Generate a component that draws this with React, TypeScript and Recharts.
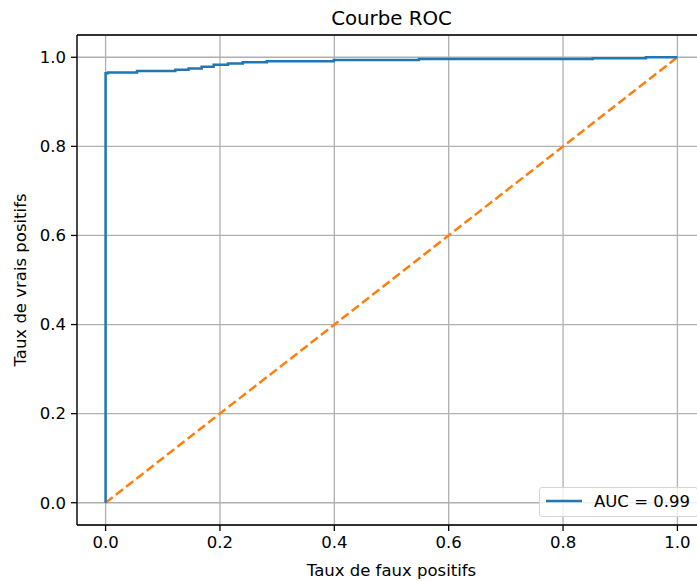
import { LineChart, Line, XAxis, YAxis, CartesianGrid, ReferenceLine } from 'recharts';

// ROC curve points
const fpr = [0, 0, 0.004, 0.055, 0.122, 0.145, 0.168, 0.189, 0.214, 0.24, 0.282, 0.399, 0.548, 0.852, 0.945, 1.0];
const tpr = [0, 0.964, 0.966, 0.969, 0.972, 0.975, 0.979, 0.983, 0.986, 0.989, 0.991, 0.994, 0.996, 0.998, 1.0, 1.0];

const diagX = [0, 1];
const diagY = [0, 1];

const ticks = [0, 0.2, 0.4, 0.6, 0.8, 1.0];

const title = 'Courbe ROC';
const xLabel = 'Taux de faux positifs';
const yLabel = 'Taux de vrais positifs';
const legendLabel = 'AUC = 0.99';

const FONT = '"DejaVu Sans", sans-serif';

const rocData = fpr.map((x, i) => ({ x, y: tpr[i] }));
const diagData = diagX.map((x, i) => ({ x, y: diagY[i] }));

const tickStyle = { fill: '#000', fontSize: 16.5, fontFamily: FONT };
const spine = { stroke: '#000', strokeWidth: 1.3 };

export default function App() {
    return (
        <div
            style={{
                position: 'fixed',
                left: 0,
                top: 0,
                width: 697,
                height: 581,
                overflow: 'hidden',
                background: '#fff',
            }}
        >
            <LineChart width={730} height={581} margin={{ top: 35, right: 24, left: 0, bottom: 0 }}>
                <CartesianGrid stroke="#b0b0b0" strokeWidth={1.3} />
                <XAxis
                    type="number"
                    dataKey="x"
                    domain={[-0.05, 1.05]}
                    ticks={ticks}
                    interval={0}
                    allowDataOverflow
                    height={56}
                    tickSize={6}
                    tickMargin={5}
                    tick={tickStyle}
                    tickLine={spine}
                    axisLine={spine}
                    tickFormatter={(v) => Number(v).toFixed(1)}
                    label={{
                        content: ({ viewBox }: any) => (
                            <text
                                x={viewBox.x + viewBox.width / 2}
                                y={viewBox.y + 51}
                                textAnchor="middle"
                                fontSize={16.5}
                                fontFamily={FONT}
                                fill="#000"
                            >
                                {xLabel}
                            </text>
                        ),
                    }}
                />
                <YAxis
                    type="number"
                    domain={[-0.05, 1.05]}
                    ticks={ticks}
                    interval={0}
                    allowDataOverflow
                    width={77}
                    tickSize={6}
                    tickMargin={5}
                    tick={tickStyle}
                    tickLine={spine}
                    axisLine={spine}
                    tickFormatter={(v) => Number(v).toFixed(1)}
                    label={{
                        content: ({ viewBox }: any) => {
                            const cx = 25.5;
                            const cy = viewBox.y + viewBox.height / 2;
                            return (
                                <text
                                    x={cx}
                                    y={cy}
                                    transform={`rotate(-90 ${cx} ${cy})`}
                                    textAnchor="middle"
                                    fontSize={16.5}
                                    fontFamily={FONT}
                                    fill="#000"
                                >
                                    {yLabel}
                                </text>
                            );
                        },
                    }}
                />
                <ReferenceLine y={1.05} stroke="#000" strokeWidth={1.3} ifOverflow="visible" />
                <Line
                    data={diagData}
                    dataKey="y"
                    type="linear"
                    stroke="#ff7f0e"
                    strokeWidth={2.5}
                    strokeDasharray="9 4"
                    dot={false}
                    activeDot={false}
                    isAnimationActive={false}
                />
                <Line
                    data={rocData}
                    dataKey="y"
                    type="stepAfter"
                    stroke="#1f77b4"
                    strokeWidth={2.5}
                    dot={false}
                    activeDot={false}
                    isAnimationActive={false}
                />
            </LineChart>

            <svg width={697} height={35} style={{ position: 'absolute', left: 0, top: 0 }}>
                <text x={391.5} y={25} textAnchor="middle" fontSize={19.8} fontFamily={FONT} fill="#000">
                    {title}
                </text>
            </svg>

            <div
                style={{
                    position: 'absolute',
                    left: 539,
                    top: 487,
                    width: 159,
                    height: 30,
                    boxSizing: 'border-box',
                    border: '1px solid #d6d6d6',
                    borderRadius: 3,
                    background: 'rgba(255,255,255,0.8)',
                }}
            >
                <svg width={159} height={30} style={{ position: 'absolute', left: 0, top: 0 }}>
                    <line x1={6} y1={13} x2={42} y2={13} stroke="#1f77b4" strokeWidth={2.5} />
                    <text x={54} y={19} fontSize={16.5} fontFamily={FONT} fill="#000">
                        {legendLabel}
                    </text>
                </svg>
            </div>
        </div>
    );
}
